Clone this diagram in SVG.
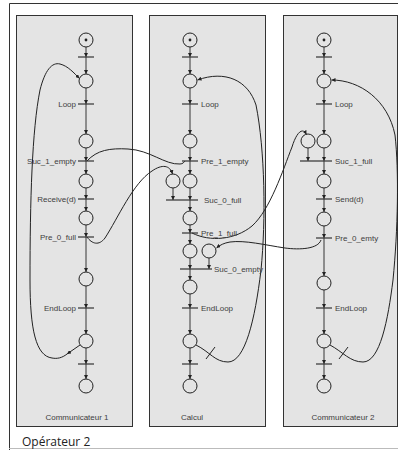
<svg xmlns="http://www.w3.org/2000/svg" width="398" height="450" viewBox="0 0 398 450">
<defs>
<marker id="ah" viewBox="0 0 6 6" refX="6" refY="3" markerWidth="4" markerHeight="4" markerUnits="userSpaceOnUse" orient="auto"><path d="M0,0 L6,3 L0,6 z" fill="#222"/></marker>
<style>
.panel{fill:#e4e4e4;stroke:#333;stroke-width:1}
.pl{fill:none;stroke:#222;stroke-width:1}
.tk{fill:#222}
.tr{stroke:#333;stroke-width:1.2}
.lb{font-family:"Liberation Sans",Arial,sans-serif;font-size:8px;fill:#404040}
.le{text-anchor:end}
.cap{font-family:"Liberation Sans",Arial,sans-serif;font-size:8px;fill:#404040;text-anchor:middle}
.arc{fill:none;stroke:#222;stroke-width:0.9;marker-end:url(#ah)}
.cv{fill:none;stroke:#222;stroke-width:1}
.cva{fill:none;stroke:#222;stroke-width:1;marker-end:url(#ah)}
</style>
</defs>
<rect x="0" y="0" width="398" height="450" fill="#fff"/>
<g id="frame">
<path d="M9.5 450 V3.5 H398" fill="none" stroke="#333" stroke-width="1"/>
<line x1="9" y1="448.5" x2="398" y2="448.5" stroke="#bbb" stroke-width="1"/>
<text x="22" y="446" font-family="'Open Sans','Liberation Sans',sans-serif" font-size="12" fill="#222">Opérateur 2</text>
</g>
<g id="panel1"><rect class="panel" x="16.5" y="15.5" width="116" height="411"/><text class="cap" x="77" y="420">Communicateur 1</text></g>
<g id="panel2"><rect class="panel" x="149.5" y="15.5" width="116" height="411"/><text class="cap" x="192" y="420">Calcul</text></g>
<g id="panel3"><rect class="panel" x="283.5" y="15.5" width="114" height="411"/><text class="cap" x="343" y="420">Communicateur 2</text></g>

<g id="connectors">
<path class="arc" d="M86 47V57"/><path class="arc" d="M86 57V74"/><path class="arc" d="M86 88V104"/><path class="arc" d="M86 104V134"/>
<path class="arc" d="M86 148V161"/><path class="arc" d="M86 161V174"/><path class="arc" d="M86 188V199"/><path class="arc" d="M86 199V211"/>
<path class="arc" d="M86 225V237"/><path class="arc" d="M86 237V272"/><path class="arc" d="M86 286V308"/><path class="arc" d="M86 308V334"/>
<path class="arc" d="M86 348V364"/><path class="arc" d="M86 364V379"/>
<path class="arc" d="M190 47V57"/><path class="arc" d="M190 57V74"/><path class="arc" d="M190 88V104"/><path class="arc" d="M190 104V134"/>
<path class="arc" d="M190 148V161"/><path class="arc" d="M190 161V174"/><path class="arc" d="M173 188V200"/><path class="arc" d="M190 188V200"/>
<path class="arc" d="M190 200V211"/><path class="arc" d="M190 225V233"/><path class="arc" d="M190 233V244"/><path class="arc" d="M190 258V269"/>
<path class="arc" d="M209 258V269"/><path class="arc" d="M190 269V280"/><path class="arc" d="M190 294V308"/><path class="arc" d="M190 308V334"/>
<path class="arc" d="M190 348V364"/><path class="arc" d="M190 364V379"/>
<path class="arc" d="M324 47V57"/><path class="arc" d="M324 57V74"/><path class="arc" d="M324 88V104"/><path class="arc" d="M324 104V134"/>
<path class="arc" d="M308 148V161"/><path class="arc" d="M324 148V161"/><path class="arc" d="M324 161V174"/><path class="arc" d="M324 188V199"/>
<path class="arc" d="M324 199V212"/><path class="arc" d="M324 226V238"/><path class="arc" d="M324 238V276"/><path class="arc" d="M324 290V308"/>
<path class="arc" d="M324 308V334"/><path class="arc" d="M324 348V364"/><path class="arc" d="M324 364V379"/>
<path class="cv" d="M87 161C97 150 110 148 128 149C150 150 165 165 180 164C183 164 184 162 185 161"/>
<path class="cva" d="M87 237C92 244 99 246 105 238C118 218 133 183 152 171C162 164 170 165 172.5 174"/>
<path class="cva" d="M192 233C210 242 235 240 252 226C270 210 283 170 292 147C296 134 302 126 306.5 134.5"/>
<path class="cva" d="M321 240C318 249 300 250 285 248C265 245 245 240 230 242C224 243 220 245 216.5 248"/>
<path class="cva" d="M80 345L67 354"/>
<path class="cva" d="M67 354C62 358 57 359 52 358C36 356 30 330 30 280C30 200 32 130 40 90C45 70 52 62 60 64C68 66 74 73 79.5 78.5"/>
<path class="cva" d="M196 345C210 352 215 362 228 362C245 362 255 320 261 270C266 220 265 150 256 105C248 80 225 70 197.5 80"/>
<line x1="206" y1="359" x2="215" y2="347" stroke="#222" stroke-width="1"/>
<path class="cva" d="M330 345C343 352 350 362 363 362C380 362 388 320 393 280C398 230 399 170 395 135C388 100 360 80 331.5 80"/>
<line x1="339" y1="359" x2="348" y2="347" stroke="#222" stroke-width="1"/>
</g>

<g id="p1_0"><circle class="pl" cx="86" cy="40" r="7"/><circle class="tk" cx="86" cy="40" r="1.4"/></g>
<g id="t1_0"><line class="tr" x1="78" y1="57" x2="94" y2="57"/></g>
<g id="p1_1"><circle class="pl" cx="86" cy="81" r="7"/></g>
<g id="t1_loop"><line class="tr" x1="78" y1="104" x2="94" y2="104"/><text class="lb le" x="76" y="107">Loop</text></g>
<g id="p1_2"><circle class="pl" cx="86" cy="141" r="7"/></g>
<g id="t1_suc"><line class="tr" x1="78" y1="161" x2="94" y2="161"/><text class="lb le" x="76" y="164">Suc_1_empty</text></g>
<g id="p1_3"><circle class="pl" cx="86" cy="181" r="7"/></g>
<g id="t1_recv"><line class="tr" x1="78" y1="199" x2="94" y2="199"/><text class="lb le" x="76" y="202">Receive(d)</text></g>
<g id="p1_4"><circle class="pl" cx="86" cy="218" r="7"/></g>
<g id="t1_pre"><line class="tr" x1="78" y1="237" x2="94" y2="237"/><text class="lb le" x="76" y="240">Pre_0_full</text></g>
<g id="p1_5"><circle class="pl" cx="86" cy="279" r="7"/></g>
<g id="t1_end"><line class="tr" x1="78" y1="308" x2="94" y2="308"/><text class="lb le" x="76" y="311">EndLoop</text></g>
<g id="p1_6"><circle class="pl" cx="86" cy="341" r="7"/></g>
<g id="t1_x"><line class="tr" x1="78" y1="364" x2="94" y2="364"/></g>
<g id="p1_7"><circle class="pl" cx="86" cy="386" r="7"/></g>

<g id="p2_0"><circle class="pl" cx="190" cy="40" r="7"/><circle class="tk" cx="190" cy="40" r="1.4"/></g>
<g id="t2_0"><line class="tr" x1="182" y1="57" x2="198" y2="57"/></g>
<g id="p2_1"><circle class="pl" cx="190" cy="81" r="7"/></g>
<g id="t2_loop"><line class="tr" x1="182" y1="104" x2="198" y2="104"/><text class="lb" x="201" y="107">Loop</text></g>
<g id="p2_2"><circle class="pl" cx="190" cy="141" r="7"/></g>
<g id="t2_pre1e"><line class="tr" x1="182" y1="161" x2="198" y2="161"/><text class="lb" x="201" y="164">Pre_1_empty</text></g>
<g id="p2_3b"><circle class="pl" cx="173" cy="181" r="7"/></g>
<g id="p2_3"><circle class="pl" cx="190" cy="181" r="7"/></g>
<g id="t2_suc0f"><line class="tr" x1="166" y1="200" x2="198" y2="200"/><text class="lb" x="204" y="203">Suc_0_full</text></g>
<g id="p2_4"><circle class="pl" cx="190" cy="218" r="7"/></g>
<g id="t2_pre1f"><line class="tr" x1="182" y1="233" x2="198" y2="233"/><text class="lb" x="201" y="236">Pre_1_full</text></g>
<g id="p2_5"><circle class="pl" cx="190" cy="251" r="7"/></g>
<g id="p2_5b"><circle class="pl" cx="209" cy="251" r="7"/></g>
<g id="t2_suc0e"><line class="tr" x1="180" y1="269" x2="212" y2="269"/><text class="lb" x="214" y="272">Suc_0_empty</text></g>
<g id="p2_6"><circle class="pl" cx="190" cy="287" r="7"/></g>
<g id="t2_end"><line class="tr" x1="182" y1="308" x2="198" y2="308"/><text class="lb" x="201" y="311">EndLoop</text></g>
<g id="p2_7"><circle class="pl" cx="190" cy="341" r="7"/></g>
<g id="t2_x"><line class="tr" x1="182" y1="364" x2="198" y2="364"/></g>
<g id="p2_8"><circle class="pl" cx="190" cy="386" r="7"/></g>

<g id="p3_0"><circle class="pl" cx="324" cy="40" r="7"/><circle class="tk" cx="324" cy="40" r="1.4"/></g>
<g id="t3_0"><line class="tr" x1="316" y1="57" x2="332" y2="57"/></g>
<g id="p3_1"><circle class="pl" cx="324" cy="81" r="7"/></g>
<g id="t3_loop"><line class="tr" x1="316" y1="104" x2="332" y2="104"/><text class="lb" x="335" y="107">Loop</text></g>
<g id="p3_2b"><circle class="pl" cx="308" cy="141" r="7"/></g>
<g id="p3_2"><circle class="pl" cx="324" cy="141" r="7"/></g>
<g id="t3_suc1f"><line class="tr" x1="300" y1="161" x2="332" y2="161"/><text class="lb" x="335" y="164">Suc_1_full</text></g>
<g id="p3_3"><circle class="pl" cx="324" cy="181" r="7"/></g>
<g id="t3_send"><line class="tr" x1="316" y1="199" x2="332" y2="199"/><text class="lb" x="335" y="202">Send(d)</text></g>
<g id="p3_4"><circle class="pl" cx="324" cy="219" r="7"/></g>
<g id="t3_pre0e"><line class="tr" x1="316" y1="238" x2="332" y2="238"/><text class="lb" x="335" y="241">Pre_0_emty</text></g>
<g id="p3_5"><circle class="pl" cx="324" cy="283" r="7"/></g>
<g id="t3_end"><line class="tr" x1="316" y1="308" x2="332" y2="308"/><text class="lb" x="335" y="311">EndLoop</text></g>
<g id="p3_6"><circle class="pl" cx="324" cy="341" r="7"/></g>
<g id="t3_x"><line class="tr" x1="316" y1="364" x2="332" y2="364"/></g>
<g id="p3_7"><circle class="pl" cx="324" cy="386" r="7"/></g>
</svg>
